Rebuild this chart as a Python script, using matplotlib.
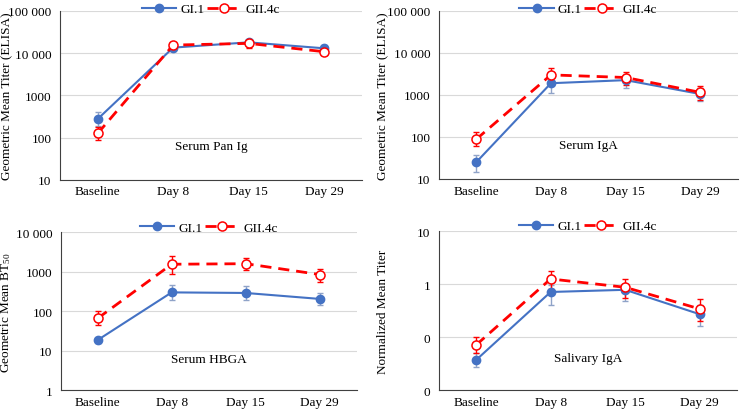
import matplotlib
matplotlib.use('Agg')
import matplotlib.pyplot as plt
import numpy as np

plt.rcParams['font.family'] = ['Liberation Serif', 'DejaVu Serif']
plt.rcParams['mathtext.fontset'] = 'custom'
plt.rcParams['mathtext.rm'] = 'Liberation Serif'
plt.rcParams['mathtext.it'] = 'Liberation Serif:italic'

categories = ['Baseline', 'Day 8', 'Day 15', 'Day 29']

# Serum Pan Ig
panig_gi1 = [275, 13500, 18000, 13000]
panig_gi1_lo = [190, 11000, 15000, 10500]
panig_gi1_hi = [400, 16000, 21000, 15500]
panig_gii = [125, 15500, 17000, 10800]
panig_gii_lo = [90, 13000, 13500, 9000]
panig_gii_hi = [180, 18000, 21000, 13000]

# Serum IgA
iga_gi1 = [25, 1900, 2250, 1050]
iga_gi1_lo = [15, 1100, 1500, 700]
iga_gi1_hi = [37, 2800, 3000, 1500]
iga_gii = [88, 3000, 2600, 1150]
iga_gii_lo = [60, 2000, 1700, 750]
iga_gii_hi = [130, 4400, 3500, 1600]

# Serum HBGA
hbga_gi1 = [18.6, 300, 290, 205]
hbga_gi1_lo = [16, 190, 190, 145]
hbga_gi1_hi = [21, 450, 430, 290]
hbga_gii = [66, 1550, 1600, 850]
hbga_gii_lo = [45, 900, 1100, 560]
hbga_gii_hi = [100, 2500, 2200, 1200]

# Salivary IgA
sal_gi1 = [0.037, 0.71, 0.78, 0.27]
sal_gi1_lo = [0.027, 0.40, 0.48, 0.16]
sal_gi1_hi = [0.05, 0.95, 1.0, 0.40]
sal_gii = [0.071, 1.25, 0.87, 0.34]
sal_gii_lo = [0.05, 0.80, 0.55, 0.20]
sal_gii_hi = [0.10, 1.80, 1.25, 0.52]

panels = [
    ([0.081, 0.559, 0.408, 0.412], 'Serum Pan Ig', 'Geometric Mean Titer (ELISA)',
     (10, 100000), [10, 100, 1000, 10000, 100000], ['10', '100', '1000', '10 000', '100 000'],
     (panig_gi1, panig_gi1_lo, panig_gi1_hi, panig_gii, panig_gii_lo, panig_gii_hi),
     1.01, -0.156),
    ([0.593, 0.561, 0.404, 0.41], 'Serum IgA', 'Geometric Mean Titer (ELISA)',
     (10, 100000), [10, 100, 1000, 10000, 100000], ['10', '100', '1000', '10 000', '100 000'],
     (iga_gi1, iga_gi1_lo, iga_gi1_hi, iga_gii, iga_gii_lo, iga_gii_hi),
     1.01, -0.167),
    ([0.082, 0.046, 0.40, 0.385], 'Serum HBGA', 'Geometric Mean BT$_{50}$',
     (1, 10000), [1, 10, 100, 1000, 10000], ['1', '10', '100', '1000', '10 000'],
     (hbga_gi1, hbga_gi1_lo, hbga_gi1_hi, hbga_gii, hbga_gii_lo, hbga_gii_hi),
     1.03, -0.162),
    ([0.593, 0.046, 0.403, 0.388], 'Salivary IgA', 'Normalized Mean Titer',
     (0.01, 10), [0.01, 0.1, 1, 10], ['0', '0', '1', '10'],
     (sal_gi1, sal_gi1_lo, sal_gi1_hi, sal_gii, sal_gii_lo, sal_gii_hi),
     1.03, -0.168),
]

fig = plt.figure(figsize=(7.4, 4.1), dpi=100)
x = np.arange(len(categories))
blue = '#4472C4'
red = '#FF0000'

for rect, title, ylabel, ylim, yt, ytl, data, legy, labx in panels:
    ax = fig.add_axes(rect)
    g1, g1lo, g1hi, g2, g2lo, g2hi = [np.array(d, dtype=float) for d in data]
    # error bars
    ax.errorbar(x, g1, yerr=[g1 - g1lo, g1hi - g1], fmt='none', ecolor='#8FA3C8',
                elinewidth=1, capsize=2.5, zorder=2)
    ax.errorbar(x, g2, yerr=[g2 - g2lo, g2hi - g2], fmt='none', ecolor=red,
                elinewidth=1, capsize=2.5, zorder=2)
    # series
    ax.plot(x, g1, color=blue, marker='o', markersize=6, lw=1.5, label='GI.1', zorder=3)
    ax.plot(x, g2, color=red, marker='o', markersize=6.5, lw=2, ls=(0, (4, 2.5)),
            markerfacecolor='white', markeredgecolor=red, markeredgewidth=1.1,
            label='GII.4c', zorder=4)
    ax.set_yscale('log')
    ax.set_ylim(*ylim)
    ax.set_yticks(yt)
    ax.set_yticklabels(ytl)
    ax.minorticks_off()
    ax.set_xlim(-0.5, 3.5)
    ax.set_xticks(x)
    ax.set_xticklabels(categories)
    ax.tick_params(length=0, labelsize=9.5, pad=4)
    ax.tick_params(axis='y', pad=6)
    ax.grid(axis='y', color='#D9D9D9', lw=0.8)
    ax.set_axisbelow(True)
    for s in ['top', 'right']:
        ax.spines[s].set_visible(False)
    ax.spines['left'].set_color('#404040')
    ax.spines['bottom'].set_color('#404040')
    ax.set_ylabel(ylabel, fontsize=9.5)
    ax.yaxis.set_label_coords(labx, 0.5)
    ax.text(0.5, 0.2, title, transform=ax.transAxes, ha='center', va='center', fontsize=9.5)
    ax.legend(loc='center', bbox_to_anchor=(0.5, legy), ncol=2, frameon=False,
              fontsize=9.5, handlelength=2.6, columnspacing=0.2, handletextpad=0.3,
              borderpad=0)

fig.savefig('out.png', dpi=100)
